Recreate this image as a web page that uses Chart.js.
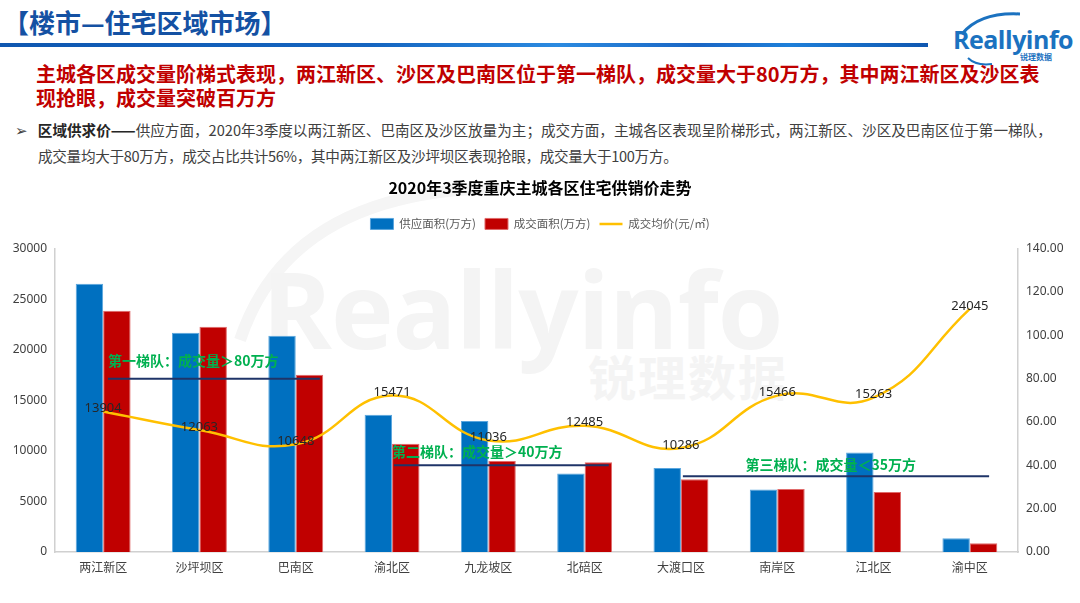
<!DOCTYPE html>
<html>
<head>
<meta charset="utf-8">
<script src="https://cdn.jsdelivr.net/npm/chart.js@4.4.0/dist/chart.umd.min.js"></script>
<style>
    body { margin: 0; width: 1080px; height: 603px; background: #fff; position: relative; overflow: hidden;
        font-family: "Noto Sans CJK SC", "Noto Sans", sans-serif; }
    .abs { position: absolute; white-space: nowrap; }
    #head { left: 3px; top: 3px; font-size: 26px; font-weight: bold; color: #1451a3; }
    #barra { left: 0; top: 43px; width: 928px; height: 4px;
        background: linear-gradient(90deg, #0f57b0 0%, #1565c0 40%, #2b8ae0 60%, #1a66c4 75%, #1e7fd9 85%, #0f57b0 100%); }
    #logo { left: 953px; top: 22px; font-family: "Open Sans", sans-serif; font-weight: bold; font-size: 25px; color: #1b72c0; letter-spacing: -0.5px; }
    #logoSub { left: 1020px; top: 51px; font-size: 8px; font-weight: bold; color: #1b72c0; }
    #titulo { left: 36px; top: 62px; font-size: 20px; font-weight: bold; color: #c00000; line-height: 24px; }
    #texto { left: 15px; top: 117px; font-size: 14.6px; color: #404040; line-height: 26px; }
    #texto b { color: #262626; }
    #texto span { padding-left: 23px; letter-spacing: -0.3px; }
    #marca { left: 262px; top: 236px; font-family: "Open Sans", sans-serif; font-weight: bold; font-size: 106px; color: #f4f4f4; letter-spacing: -1px; }
    #marcaSub { left: 588px; top: 340px; font-size: 48px; font-weight: bold; color: #f4f4f4; letter-spacing: 2px; }
    #grafico { position: absolute; left: 0; top: 170px; }
</style>
</head>
<body>
<div class="abs" id="head">【楼市—住宅区域市场】</div>
<div class="abs" id="barra"></div>
<svg class="abs" style="left:940px;top:6px" width="130" height="60">
    <path d="M22 28 Q40 6 80 8" stroke="#1b72c0" stroke-width="3" fill="none"/>
    <path d="M28 52 Q36 60 52 58" stroke="#1b72c0" stroke-width="2" fill="none"/>
</svg>
<div class="abs" id="logo">Reallyinfo</div>
<div class="abs" id="logoSub">锐理数据</div>
<div class="abs" id="titulo">主城各区成交量阶梯式表现，两江新区、沙区及巴南区位于第一梯队，成交量大于80万方，其中两江新区及沙区表<br>现抢眼，成交量突破百万方</div>
<div class="abs" id="texto">➢&nbsp;&nbsp;&nbsp;<b>区域供求价——</b>供应方面，2020年3季度以两江新区、巴南区及沙区放量为主；成交方面，主城各区表现呈阶梯形式，两江新区、沙区及巴南区位于第一梯队，<br><span>成交量均大于80万方，成交占比共计56%，其中两江新区及沙坪坝区表现抢眼，成交量大于100万方。</span></div>
<svg class="abs" style="left:200px;top:170px" width="400" height="200">
    <path d="M40 170 Q90 20 300 18" stroke="#f5f5f5" stroke-width="12" fill="none"/>
</svg>
<div class="abs" id="marca">Reallyinfo</div>
<div class="abs" id="marcaSub">锐理数据</div>
<canvas id="grafico" width="1080" height="433"></canvas>

<script>
// dados

const distritos = ['两江新区', '沙坪坝区', '巴南区', '渝北区', '九龙坡区', '北碚区', '大渡口区', '南岸区', '江北区', '渝中区']
const oferta = [123.8, 101.2, 99.8, 63.3, 60.5, 36.2, 38.8, 28.8, 45.9, 6.3]      // 供应面积(万方)
const vendas = [111.4, 104.0, 81.8, 50.0, 42.0, 41.4, 33.6, 29.1, 27.7, 4.0]      // 成交面积(万方)
const precos = [13904, 12063, 10648, 15471, 11036, 12485, 10286, 15466, 15263, 24045] // 成交均价(元/㎡)
const ticksEsq = [0, 5000, 10000, 15000, 20000, 25000, 30000]
const ticksDir = [0, 20, 40, 60, 80, 100, 120, 140]
const niveis = [80, 40, 35]
const niveisTxt = ['第一梯队：成交量＞80万方', '第二梯队：成交量＞40万方', '第三梯队：成交量＜35万方']

const fonteNum = '"Noto Sans", "Noto Sans CJK SC", sans-serif'
const fonteCJK = '"Noto Sans CJK SC", sans-serif'

// rotulos da linha de preco
const rotulos = {
    id: 'rotulos',
    afterDatasetsDraw(chart) {
        const ctx = chart.ctx
        const meta = chart.getDatasetMeta(2)
        ctx.save()
        ctx.font = '13px ' + fonteNum
        ctx.fillStyle = '#262626'
        ctx.textAlign = 'center'
        ctx.textBaseline = 'middle'
        meta.data.forEach((p, i) => {
            ctx.fillText(precos[i], p.x, p.y - 3)
        })
        ctx.restore()
    }
}

// linhas dos niveis (梯队)
const linhasNivel = {
    id: 'linhasNivel',
    afterDatasetsDraw(chart, args, opts) {
        const ctx = chart.ctx
        const x = chart.scales.x
        const y1 = chart.scales.y1
        ctx.save()
        niveis.forEach((v, i) => {
            const py = y1.getPixelForValue(v)
            ctx.strokeStyle = '#1f3468'
            ctx.lineWidth = 2
            ctx.beginPath()
            ctx.moveTo(x.getPixelForValue(opts.de[i]), py)
            ctx.lineTo(x.getPixelForValue(opts.ate[i]), py)
            ctx.stroke()
            ctx.font = 'bold 14px ' + fonteCJK
            ctx.fillStyle = '#00b050'
            ctx.textAlign = 'left'
            ctx.textBaseline = 'middle'
            ctx.fillText(niveisTxt[i], x.getPixelForValue(opts.txt[i]), py - opts.dy[i])
        })
        ctx.restore()
    }
}

var grafico = new Chart(document.getElementById('grafico'), {
    data: {
        labels: distritos,
        datasets: [{
            type: 'bar',
            label: '供应面积(万方)',
            data: oferta,
            yAxisID: 'y1',
            backgroundColor: '#0070c0',
            borderColor: '#5aa6de',
            borderWidth: 1,
            pointStyle: 'rect',
            categoryPercentage: 0.57,
            barPercentage: 1,
            order: 2
        }, {
            type: 'bar',
            label: '成交面积(万方)',
            data: vendas,
            yAxisID: 'y1',
            backgroundColor: '#c00000',
            borderColor: '#e06a6a',
            borderWidth: 1,
            pointStyle: 'rect',
            categoryPercentage: 0.57,
            barPercentage: 1,
            order: 2
        }, {
            type: 'line',
            label: '成交均价(元/㎡)',
            data: precos,
            yAxisID: 'y',
            borderColor: '#ffc000',
            backgroundColor: '#ffc000',
            borderWidth: 2.5,
            pointRadius: 0,
            pointStyle: 'line',
            tension: 0.45,
            order: 1
        }]
    },
    options: {
        responsive: false,
        animation: false,
        layout: { padding: 0 },
        plugins: {
            title: {
                display: true,
                text: '2020年3季度重庆主城各区住宅供销价走势',
                color: '#000',
                font: { family: fonteCJK, size: 16, weight: 'bold' },
                padding: { top: 8, bottom: 12 }
            },
            legend: {
                labels: {
                    usePointStyle: true,
                    pointStyleWidth: 23,
                    boxHeight: 11,
                    color: '#595959',
                    font: { family: fonteCJK, size: 11.5 },
                    padding: 9,
                    sort: (a, b) => a.datasetIndex - b.datasetIndex
                }
            },
            tooltip: { enabled: false },
            linhasNivel: {
                de: [0.05, 3.02, 6.02],
                ate: [2.25, 5.25, 9.2],
                txt: [0.05, 3.0, 6.67],
                dy: [18, 14, 11]
            }
        },
        scales: {
            x: {
                grid: { display: false, drawTicks: false },
                border: { color: '#d0d0d0', width: 1.5 },
                ticks: { color: '#404040', font: { family: fonteCJK, size: 12 }, padding: 8 },
                afterFit: s => { s.height = 51 }
            },
            // espaco vazio entre legenda e grafico
            topo: {
                type: 'category',
                position: 'top',
                display: true,
                grid: { display: false, drawTicks: false },
                border: { display: false },
                ticks: { display: false },
                afterFit: s => { s.height = 9 }
            },
            y: {
                position: 'left',
                min: 0, max: 30000,
                afterBuildTicks: s => { s.ticks = ticksEsq.map(v => ({ value: v })) },
                grid: { display: false, drawTicks: false },
                border: { color: '#d0d0d0', width: 1.5 },
                ticks: { color: '#404040', font: { family: fonteNum, size: 12 }, padding: 8,
                    callback: v => String(v) },
                afterFit: s => { s.width = 55 }
            },
            y1: {
                position: 'right',
                min: 0, max: 140,
                afterBuildTicks: s => { s.ticks = ticksDir.map(v => ({ value: v })) },
                grid: { display: false, drawOnChartArea: false, tickLength: 5, color: '#d0d0d0' },
                border: { color: '#d0d0d0', width: 1.5 },
                ticks: { color: '#404040', font: { family: fonteNum, size: 12 }, padding: 3,
                    callback: v => v.toFixed(2) },
                afterFit: s => { s.width = 62 }
            }
        }
    },
    plugins: [rotulos, linhasNivel]
})
</script>
</body>
</html>
